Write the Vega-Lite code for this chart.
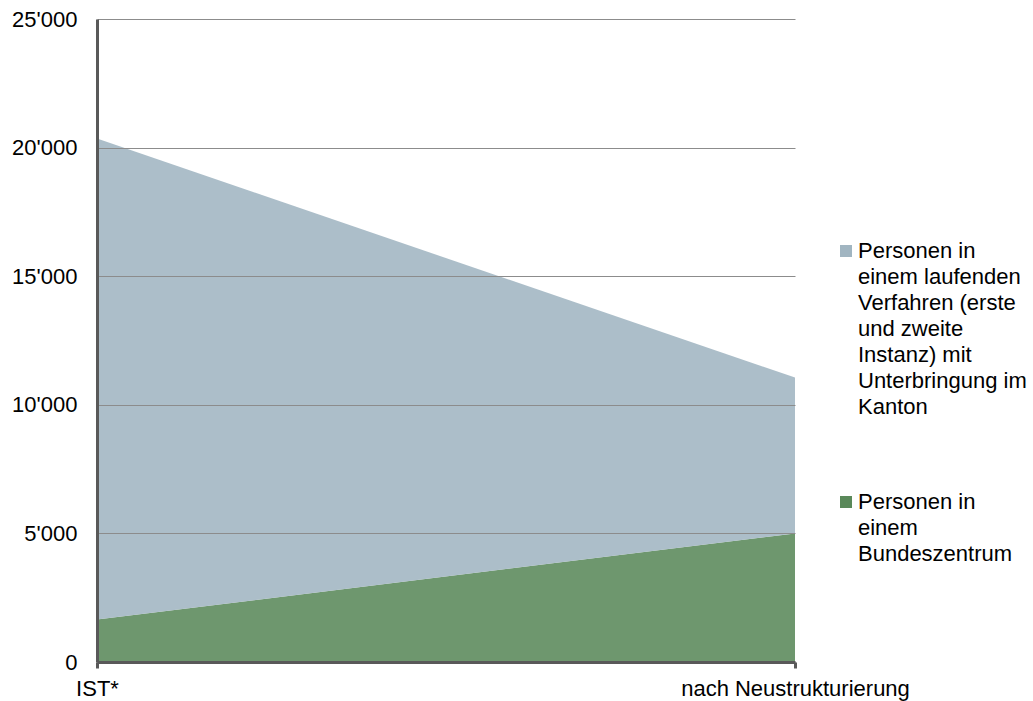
{
  "$schema": "https://vega.github.io/schema/vega-lite/v6.json",
  "autosize": "none",
  "width": 698,
  "height": 643,
  "padding": {"left": 97, "top": 19, "right": 238, "bottom": 39},
  "background": "white",
  "data": {
    "values": [
      {"Zeitpunkt": "IST*", "Kategorie": "Personen in einem Bundeszentrum", "Personen": 1650},
      {"Zeitpunkt": "nach Neustrukturierung", "Kategorie": "Personen in einem Bundeszentrum", "Personen": 5000},
      {"Zeitpunkt": "IST*", "Kategorie": "Personen in einem laufenden Verfahren (erste und zweite Instanz) mit Unterbringung im Kanton", "Personen": 18700},
      {"Zeitpunkt": "nach Neustrukturierung", "Kategorie": "Personen in einem laufenden Verfahren (erste und zweite Instanz) mit Unterbringung im Kanton", "Personen": 6060}
    ]
  },
  "mark": {"type": "area", "fillOpacity": 0.88, "strokeWidth": 0},
  "encoding": {
    "x": {
      "field": "Zeitpunkt",
      "type": "ordinal",
      "sort": ["IST*", "nach Neustrukturierung"],
      "scale": {"type": "point", "padding": 0},
      "axis": {
        "title": null,
        "labelAngle": 0,
        "labelFontSize": 22,
        "labelFont": "Liberation Sans",
        "labelColor": "#000000",
        "labelLimit": 0,
        "labelOverlap": false,
        "domainColor": "#595959",
        "domainWidth": 3,
        "tickColor": "#595959",
        "tickWidth": 3,
        "tickSize": 6,
        "labelPadding": 10,
        "grid": false,
        "zindex": 1
      }
    },
    "y": {
      "field": "Personen",
      "type": "quantitative",
      "aggregate": "sum",
      "stack": "zero",
      "scale": {"domain": [0, 25000], "nice": false},
      "axis": {
        "title": null,
        "values": [0, 5000, 10000, 15000, 20000, 25000],
        "labelExpr": "replace(format(datum.value, ','), ',', \"'\")",
        "labelFontSize": 22,
        "labelFont": "Liberation Sans",
        "labelColor": "#000000",
        "domainColor": "#595959",
        "domainWidth": 3,
        "ticks": false,
        "tickSize": 0,
        "labelPadding": 20,
        "grid": true,
        "gridColor": "#8C8C8C",
        "gridWidth": 1,
        "zindex": 1
      }
    },
    "color": {
      "field": "Kategorie",
      "type": "nominal",
      "scale": {
        "domain": [
          "Personen in einem laufenden Verfahren (erste und zweite Instanz) mit Unterbringung im Kanton",
          "Personen in einem Bundeszentrum"
        ],
        "range": ["#A1B5C1", "#5A895A"]
      },
      "legend": {
        "title": null,
        "orient": "none",
        "legendX": 738,
        "legendY": 221,
        "padding": 0,
        "symbolType": "square",
        "symbolSize": 144,
        "symbolStrokeWidth": 0,
        "symbolOpacity": 1,
        "labelFontSize": 22,
        "labelFont": "Liberation Sans",
        "labelColor": "#000000",
        "labelLimit": 0,
        "labelOffset": 1,
        "rowPadding": 73,
        "labelExpr": "datum.value == 'Personen in einem Bundeszentrum' ? ['Personen in', 'einem', 'Bundeszentrum'] : ['Personen in', 'einem laufenden', 'Verfahren (erste', 'und zweite', 'Instanz) mit', 'Unterbringung im', 'Kanton']"
      }
    },
    "order": {"field": "Kategorie", "sort": "ascending"}
  },
  "config": {
    "view": {"stroke": null},
    "style": {"guide-label": {"lineHeight": 26}}
  }
}
